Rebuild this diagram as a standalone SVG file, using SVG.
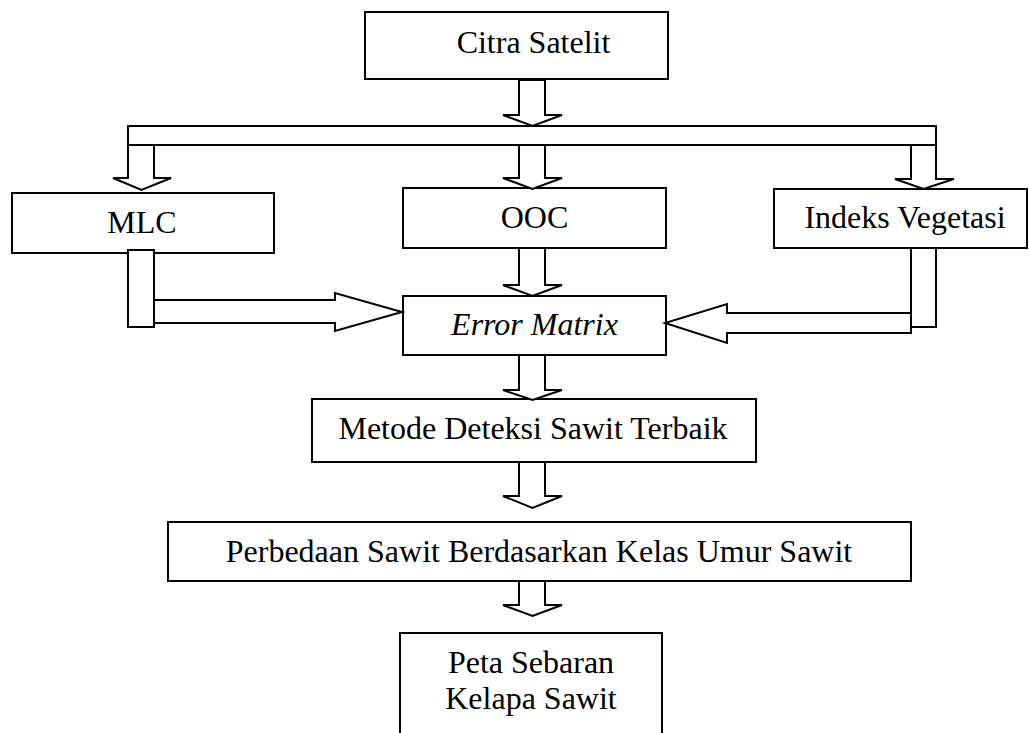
<svg xmlns="http://www.w3.org/2000/svg" width="1029" height="733" viewBox="0 0 1029 733">
<style>
.box{fill:#fff;stroke:#000;stroke-width:2}
.arr{fill:#fff;stroke:#000;stroke-width:2;stroke-linejoin:miter}
.t{font-family:"Liberation Serif","Times New Roman",serif;font-size:32px;fill:#000;text-anchor:middle}
.i{font-style:italic}
</style>
<rect width="1029" height="733" fill="#fff"/>
<g id="nodes">
<g id="citra"><rect class="box" x="365" y="12" width="303" height="67"/><text class="t" x="533.5" y="53">Citra Satelit</text></g>
<g id="mlc"><rect class="box" x="12" y="193" width="262" height="60"/><text class="t" x="142" y="233">MLC</text></g>
<g id="ooc"><rect class="box" x="403" y="188" width="263" height="60"/><text class="t" x="534.5" y="228">OOC</text></g>
<g id="indeks"><rect class="box" x="774" y="189" width="253" height="59"/><text class="t" x="905" y="228">Indeks Vegetasi</text></g>
<g id="error"><rect class="box" x="403" y="296" width="263" height="59"/><text class="t i" x="534.5" y="335">Error Matrix</text></g>
<g id="metode"><rect class="box" x="312" y="399" width="444" height="63"/><text class="t" x="533" y="439">Metode Deteksi Sawit Terbaik</text></g>
<g id="perbedaan"><rect class="box" x="168" y="522" width="743" height="59"/><text class="t" x="539" y="562">Perbedaan Sawit Berdasarkan Kelas Umur Sawit</text></g>
<g id="peta"><rect class="box" x="400" y="633" width="262" height="120"/><text class="t" x="531" y="673">Peta Sebaran</text><text class="t" x="531" y="709">Kelapa Sawit</text></g>
</g>
<g id="connectors">
<polygon class="arr" points="519,80 545,80 545,115 562,115 532.5,126 503,115 519,115"/>
<rect class="box" x="128" y="126" width="808" height="19"/>
<polygon class="arr" points="128,145 154,145 154,178 171,178 141.5,190 113,178 128,178"/>
<polygon class="arr" points="519,145 545,145 545,178 562,178 532.5,189 503,178 519,178"/>
<polygon class="arr" points="911,145 936,145 936,179 954,179 923.5,189 895,179 911,179"/>
<polygon class="arr" points="519,248 545,248 545,285 562,285 532.5,296 503,285 519,285"/>
<polygon class="arr" points="519,355 545,355 545,390 562,390 532.5,400 503,390 519,390"/>
<polygon class="arr" points="519,462 545,462 545,496 562,496 532.5,508 503,496 519,496"/>
<polygon class="arr" points="519,581 545,581 545,605 562,605 532.5,616 503,605 519,605"/>
<rect class="box" x="128" y="250" width="26" height="77"/>
<polygon class="arr" points="154,300 335,300 335,293 402,312 335,331 335,323 154,323"/>
<rect class="box" x="911" y="248" width="25" height="79"/>
<polygon class="arr" points="911,313 727,313 727,304 665,323 727,343 727,333 911,333"/>
</g>
</svg>
